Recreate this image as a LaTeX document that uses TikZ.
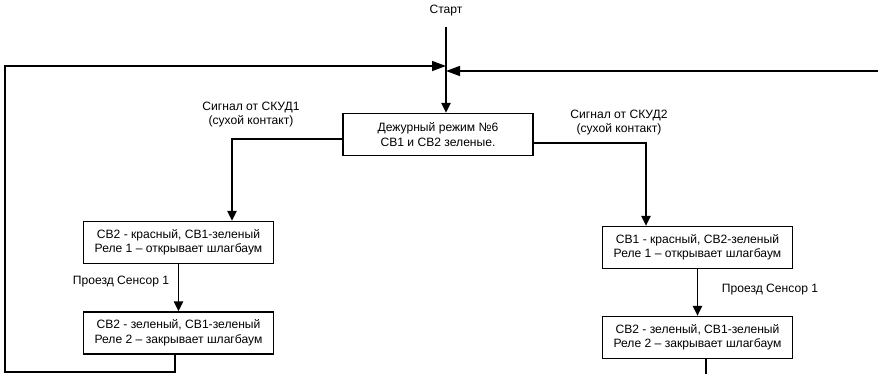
\documentclass[tikz,border=0pt]{standalone}
\usepackage{fontspec}
\setmainfont{Liberation Sans}
\usetikzlibrary{arrows.meta}
\begin{document}
\begin{tikzpicture}[x=1pt,y=-1pt,
  line width=1.4pt,
  every node/.style={font=\fontsize{12.1}{14.5}\selectfont},
  state/.style={draw,line width=1.4pt,minimum width=190pt,minimum height=42pt,inner sep=0pt,align=center},
  lbl/.style={align=center,inner sep=0pt},
  arr/.style={-{Triangle[length=10pt,width=9.5pt]}},
  jarr/.style={-{Triangle[length=14pt,width=10pt]}}]
\useasboundingbox (0,0) rectangle (878,374);

% title and states
\node[lbl] (start) at (446,11) {Старт};
\coordinate (top) at (446,27);
\coordinate (jl) at (446,66);
\coordinate (jr) at (446,71);
\node[state] (main) at (438,134.5) {Дежурный режим №6\\СВ1 и СВ2 зеленые.};
\node[state] (l1) at (178.5,242.5) {СВ2 - красный, СВ1-зеленый\\Реле 1 – открывает шлагбаум};
\node[state] (l2) at (178.5,333) {СВ2 - зеленый, СВ1-зеленый\\Реле 2 – закрывает шлагбаум};
\node[state] (r1) at (697.5,247.5) {СВ1 - красный, СВ2-зеленый\\Реле 1 – открывает шлагбаум};
\node[state] (r2) at (697.5,337.5) {СВ2 - зеленый, СВ1-зеленый\\Реле 2 – закрывает шлагбаум};

% labels
\node[lbl] (sig1) at (251,114.5) {Сигнал от СКУД1\\(сухой контакт)};
\node[lbl] (sig2) at (619,122.5) {Сигнал от СКУД2\\(сухой контакт)};
\node[lbl] (pass1) at (121,282) {Проезд Сенсор 1};
\node[lbl] (pass2) at (770,290) {Проезд Сенсор 1};

% start into standby
\draw[arr] (top) -- (main.north -| top);

% left branch
\draw[arr] (main.west |- 0,139) -| (l1.north -| 232,0);
\draw[arr] (l1.south) -- (l2.north);
\draw[jarr] (l2.south -| 175,0) -- (175,372) -| (5,66) -- (jl);

% right branch
\draw[arr] (main.east |- 0,143) -| (r1.north -| 646,0);
\draw[arr] (r1.south) -- (r2.north);
\draw (r2.south -| 706,0) -- (706,390);
\draw[jarr] (890,71) -- (jr);
\end{tikzpicture}
\end{document}
